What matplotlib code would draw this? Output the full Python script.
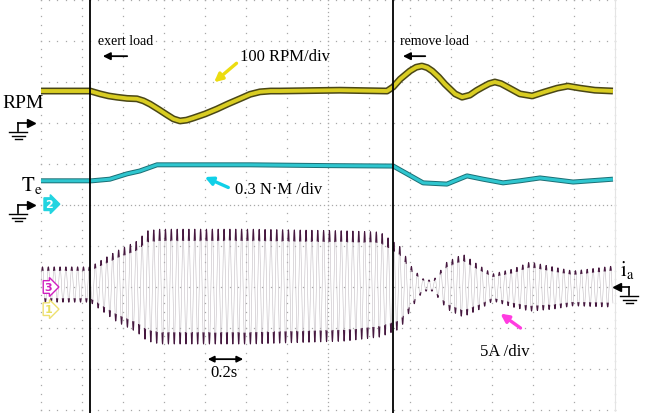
import numpy as np
import matplotlib
matplotlib.use("Agg")
import matplotlib.pyplot as plt

# all positions in scope divisions (1 div = 0.2 s horizontally)
rpm_x = [0, 1.2, 1.44, 1.65, 1.85, 2.10, 2.34, 2.50, 2.66, 2.87, 3.07, 3.23, 3.39, 3.55, 3.71,
         4.0, 4.29, 4.57, 4.85, 5.10, 5.34, 5.60, 5.83, 7.29, 8.44,
         8.59, 8.76, 9.0, 9.15, 9.29, 9.42, 9.54, 9.70, 9.85, 10.10, 10.27, 10.46, 10.62, 10.78,
         10.93, 11.07, 11.22, 11.37, 11.68, 11.98, 12.29, 12.59, 12.85, 13.15, 13.51, 13.95]
rpm_y = [7.78, 7.78, 7.71, 7.66, 7.63, 7.60, 7.59, 7.54, 7.46, 7.33, 7.20, 7.10, 7.05, 7.07, 7.12,
         7.22, 7.34, 7.47, 7.59, 7.70, 7.76, 7.78, 7.78, 7.80, 7.78,
         7.88, 8.07, 8.27, 8.36, 8.39, 8.35, 8.27, 8.12, 7.95, 7.71, 7.63, 7.68, 7.79, 7.88,
         7.96, 8.0, 7.96, 7.88, 7.71, 7.66, 7.76, 7.85, 7.90, 7.85, 7.80, 7.78]

te_x = [0, 1.24, 1.68, 2.10, 2.41, 2.83, 5.10, 7.05, 8.59, 8.93, 9.32, 9.90, 10.39, 10.78,
        11.27, 11.68, 12.17, 12.98, 13.95]
te_y = [5.59, 5.59, 5.63, 5.76, 5.83, 5.98, 5.98, 5.96, 5.95, 5.76, 5.54, 5.51, 5.71, 5.63,
        5.54, 5.59, 5.66, 5.56, 5.63]

ia_x = [0, 1.2, 1.85, 2.34, 2.59, 2.90, 5.10, 7.41, 8.27, 8.76, 9.07, 9.32, 9.56, 9.90, 10.29,
        10.71, 11.02, 11.51, 11.93, 12.49, 12.98, 13.95]
ia_top = [3.49, 3.49, 3.88, 4.12, 4.37, 4.41, 4.41, 4.37, 4.34, 3.98, 3.44, 3.20, 3.15, 3.61,
          3.80, 3.51, 3.32, 3.44, 3.61, 3.49, 3.39, 3.51]
ia_bot = [2.63, 2.63, 2.15, 1.90, 1.68, 1.61, 1.61, 1.68, 1.78, 1.98, 2.54, 2.90, 2.90, 2.46,
          2.27, 2.46, 2.66, 2.51, 2.41, 2.46, 2.54, 2.51]
ia_cycles_per_div = 7.0

load_on = 1.195
load_off = 8.585

plt.rcParams['mathtext.fontset'] = 'stix'
serif = 'Liberation Serif'

fig = plt.figure(figsize=(6.45, 4.14), dpi=100)
ax = fig.add_axes([0, 0, 1, 1])
ax.set_xlim(-1, 604 / 41)
ax.set_ylim(-3 / 41, 411 / 41)
ax.axis('off')

# graticule
gc = '#a8a8a8'
for gx in range(15):
    ys = np.arange(0, 10.01, 0.2 if gx != 7 else 0.1)
    ax.plot(np.full_like(ys, gx), ys, ls='none', marker='s', ms=0.9, color=gc, mew=0)
for gy in range(11):
    xs = np.arange(0, 14.01, 0.2 if gy != 5 else 0.1)
    ax.plot(xs, np.full_like(xs, gy), ls='none', marker='s', ms=0.9, color=gc, mew=0)
ax.plot([14, 14], [0, 10], color='#e4e4e4', lw=0.8)

# phase current
t = np.linspace(0, 13.95, 30000)
top = np.interp(t, ia_x, ia_top)
bot = np.interp(t, ia_x, ia_bot)
carrier = np.sin(2 * np.pi * ia_cycles_per_div * t)
ia = (top + bot) / 2 + (top - bot) / 2 * carrier
ax.plot(t, ia, color='#b9b2b9', lw=0.35)
tips = np.ma.masked_where(np.abs(carrier) < 0.8, ia)
ax.plot(t, tips, color='#46183f', lw=0.75)

# torque
ax.plot(te_x, te_y, color='#1b6f75', lw=3.6, solid_capstyle='butt')
ax.plot(te_x, te_y, color='#2fc6cf', lw=2.2, solid_capstyle='butt')

# speed
ax.plot(rpm_x, rpm_y, color='#4a4716', lw=5.0, solid_capstyle='butt')
ax.plot(rpm_x, rpm_y, color='#d9cd22', lw=2.8, solid_capstyle='butt')

# load events
for lx in (load_on, load_off):
    ax.plot([lx, lx], [-1, 11], color='black', lw=1.3)

ax.text(1.39, 9.0, 'exert load', family=serif, fontsize=10, va='center')
ax.annotate('', xy=(1.44, 8.63), xytext=(2.17, 8.63),
            arrowprops=dict(arrowstyle='-|>', color='black', lw=1.3, mutation_scale=11))
ax.text(8.76, 9.0, 'remove load', family=serif, fontsize=10, va='center')
ax.annotate('', xy=(8.76, 8.63), xytext=(9.44, 8.63),
            arrowprops=dict(arrowstyle='-|>', color='black', lw=1.3, mutation_scale=11))

ax.text(4.85, 8.63, '100 RPM/div', family=serif, fontsize=12, va='center')
ax.annotate('', xy=(4.17, 7.95), xytext=(4.82, 8.50),
            arrowprops=dict(arrowstyle='-|>', color='#ecdc10', lw=2.4, mutation_scale=12))
ax.text(4.73, 5.39, '0.3 N·M /div', family=serif, fontsize=12, va='center')
ax.annotate('', xy=(3.93, 5.71), xytext=(4.63, 5.40),
            arrowprops=dict(arrowstyle='-|>', color='#10d0e8', lw=2.4, mutation_scale=12))
ax.text(10.71, 1.44, '5A /div', family=serif, fontsize=12, va='center')
ax.annotate('', xy=(11.15, 2.39), xytext=(11.75, 1.96),
            arrowprops=dict(arrowstyle='-|>', color='#ff3ce0', lw=2.4, mutation_scale=12))

ax.text(4.12, 0.93, '0.2s', family=serif, fontsize=12, va='center')
ax.annotate('', xy=(4.0, 1.24), xytext=(5.0, 1.24),
            arrowprops=dict(arrowstyle='<|-|>', color='black', lw=1.3, mutation_scale=9))

# channel labels
ax.text(-0.93, 7.51, 'RPM', family=serif, fontsize=14, va='center')
ax.text(-0.48, 5.49, r'$\mathrm{T_e}$', fontsize=15, va='center')
ax.text(14.12, 3.45, r'$\mathrm{i_a}$', fontsize=15, va='center')


def ground(x, y, point='right'):
    # scope ground reference marker
    d = 1 if point == 'right' else -1
    ax.plot([x, x], [y, y - 0.2], color='black', lw=1.2)
    ax.plot([x, x + 0.28 * d], [y, y], color='black', lw=1.2)
    ax.plot(x + 0.3 * d, y, marker='>' if point == 'right' else '<', color='black', ms=6)
    for i, w in enumerate((0.22, 0.15, 0.08)):
        ax.plot([x - w, x + w], [y - 0.22 - 0.09 * i] * 2, color='black', lw=1.0)


ground(-0.55, 7.0)
ground(-0.55, 5.0)
ground(14.35, 3.0, point='left')

ax.text(0.2, 5.02, '2', color='white', fontsize=8, fontweight='bold', ha='center', va='center',
        bbox=dict(boxstyle='rarrow,pad=0.12', fc='#22d4e0', ec='#22d4e0'))
ax.text(0.18, 3.0, '3', color='#d020c0', fontsize=8, fontweight='bold', ha='center', va='center',
        bbox=dict(boxstyle='rarrow,pad=0.12', fc='white', ec='#d020c0', lw=1.0))
ax.text(0.18, 2.46, '1', color='#e8e060', fontsize=8, fontweight='bold', ha='center', va='center',
        bbox=dict(boxstyle='rarrow,pad=0.12', fc='white', ec='#eee070', lw=1.0))

fig.savefig('out.png', dpi=100)
